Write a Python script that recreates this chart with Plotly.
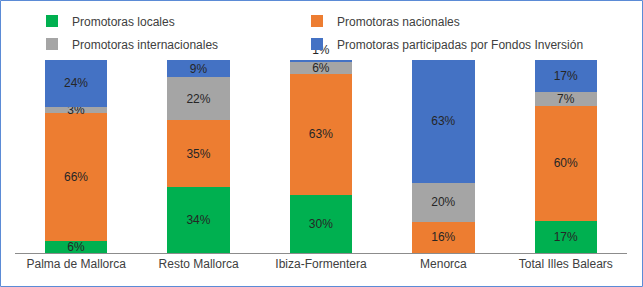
import plotly.graph_objects as go

categories = ["Palma de Mallorca", "Resto Mallorca", "Ibiza-Formentera", "Menorca", "Total Illes Balears"]
locales = [6, 34, 30, 0, 17]
nacionales = [66, 35, 63, 16, 60]
internacionales = [3, 22, 6, 20, 7]
fondos = [24, 9, 1, 63, 17]

series = [
    ("Promotoras locales", locales, "#00B050"),
    ("Promotoras nacionales", nacionales, "#ED7D31"),
    ("Promotoras internacionales", internacionales, "#A5A5A5"),
    ("Promotoras participadas por Fondos Inversión", fondos, "#4472C4"),
]
# legend box left / centre positions in pixels
legend_pos = [(32, 21), (297, 21), (32, 44), (297, 44)]
legend_ids = ["legend2", "legend3", "legend4", "legend5"]

W, H = 643, 287
L, R, T, B = 15, 16, 60, 34
pw, ph = W - L - R, H - T - B

def px_to_paper_y(p):
    return (T + ph - p) / ph

def px_to_paper_x(p):
    return (p - L) / pw

lbl_font = dict(family="Liberation Sans, Arial", size=12, color="#262626")

fig = go.Figure()
n = len(series)
for i, ((name, vals, color), lg) in enumerate(zip(series, legend_ids)):
    is_top = i == n - 1
    positions = ["outside" if (is_top and v < 3) else "inside" for v in vals]
    fig.add_trace(go.Bar(
        name=name, x=categories, y=vals, marker=dict(color=color, line=dict(width=0)),
        text=[f"{v}%" if v > 0 else "" for v in vals],
        textposition=positions, insidetextanchor="middle", textangle=0,
        textfont=lbl_font, insidetextfont=lbl_font, outsidetextfont=lbl_font,
        cliponaxis=False,
        legend=lg, showlegend=True, hoverinfo="skip",
    ))

legends = {}
for lg, (lx, ly) in zip(legend_ids, legend_pos):
    legends[lg] = dict(orientation="h", xanchor="left", yanchor="middle",
                       x=px_to_paper_x(lx), y=px_to_paper_y(ly),
                       font=dict(size=12, color="#404040"), itemclick=False,
                       bgcolor="rgba(0,0,0,0)")

fig.update_layout(
    width=W, height=H, barmode="stack", barnorm="percent", bargap=0.49,
    margin=dict(l=L, r=R, t=T, b=B, autoexpand=False),
    paper_bgcolor="white", plot_bgcolor="white",
    font=dict(family="Liberation Sans, Arial", size=12, color="#404040"),
    uniformtext=dict(minsize=12, mode="show"),
    showlegend=True,
    xaxis=dict(showline=True, linecolor="#8C8C8C", linewidth=1, ticks="",
               tickfont=dict(size=12, color="#404040"), fixedrange=True),
    yaxis=dict(visible=False, range=[0, 100], fixedrange=True),
    shapes=[dict(type="rect", xref="paper", yref="paper",
                 x0=px_to_paper_x(0.5), x1=px_to_paper_x(642.5),
                 y0=px_to_paper_y(286.5), y1=px_to_paper_y(0.5),
                 line=dict(color="#5B8BD6", width=1), fillcolor="rgba(0,0,0,0)", layer="above")],
    **legends,
)

fig.write_html("out.html", post_script="document.body.style.margin='0';",
               config={"displayModeBar": False})
